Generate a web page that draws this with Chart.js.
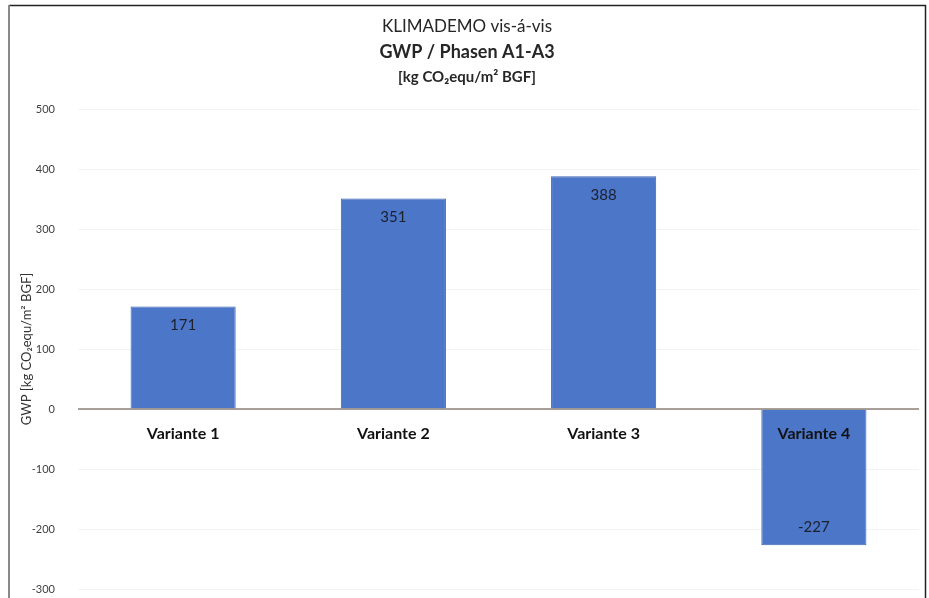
<!DOCTYPE html>
<html>
<head>
<meta charset="utf-8">
<script src="https://cdn.jsdelivr.net/npm/chart.js@4.4.1/dist/chart.umd.min.js"></script>
<style>
  html, body { margin: 0; padding: 0; background: #fff; overflow: hidden; }
  canvas { display: block; }
</style>
</head>
<body>
<canvas id="gwpChart" width="929" height="598"></canvas>
<script>
// chart data
const categories = ['Variante 1', 'Variante 2', 'Variante 3', 'Variante 4'];
const gwpValues = [171, 351, 388, -227];
const titleLines = ['KLIMADEMO vis-á-vis', 'GWP / Phasen A1-A3', '[kg CO₂equ/m² BGF]'];
const yAxisTitle = 'GWP [kg CO₂equ/m² BGF]';
const yMin = -300;
const yMax = 500;
const yStep = 100;

const fontFamily = 'Lato, "Open Sans", sans-serif';

// title lines drawn at the top (different fonts per line)
const titlePlugin = {
    id: 'threeLineTitle',
    afterDraw(chart) {
        const ctx = chart.ctx;
        ctx.save();
        ctx.fillStyle = '#262626';
        ctx.textAlign = 'center';
        ctx.textBaseline = 'middle';
        ctx.font = '17px ' + fontFamily;
        ctx.fillText(titleLines[0], 467, 27);
        ctx.font = 'bold 18px ' + fontFamily;
        ctx.fillText(titleLines[1], 467, 52);
        ctx.font = 'bold 15px ' + fontFamily;
        ctx.fillText(titleLines[2], 467, 77);
        ctx.restore();
    }
};

// value labels inside the bar end + category names on the zero line
const valueLabels = {
    id: 'valueLabels',
    afterDatasetsDraw(chart) {
        const ctx = chart.ctx;
        const meta = chart.getDatasetMeta(0);
        const xScale = chart.scales.x;
        const yScale = chart.scales.y;
        const zeroY = yScale.getPixelForValue(0);
        ctx.save();
        ctx.textAlign = 'center';
        ctx.textBaseline = 'middle';

        // zero line over the bars
        ctx.strokeStyle = '#8c8078';
        ctx.lineWidth = 1.5;
        ctx.beginPath();
        ctx.moveTo(chart.chartArea.left, zeroY);
        ctx.lineTo(chart.chartArea.right, zeroY);
        ctx.stroke();

        ctx.fillStyle = '#1b1f2e';
        ctx.font = '15px ' + fontFamily;
        meta.data.forEach((bar, i) => {
            const v = gwpValues[i];
            const y = v >= 0 ? bar.y + 19 : bar.y - 18;
            ctx.fillText(String(v), bar.x, y);
        });

        ctx.fillStyle = '#111';
        ctx.font = 'bold 16px ' + fontFamily;
        categories.forEach((c, i) => {
            ctx.fillText(c, xScale.getPixelForValue(i), zeroY + 25);
        });
        ctx.restore();
    }
};

// picture frame
const framePlugin = {
    id: 'frame',
    afterDraw(chart) {
        const ctx = chart.ctx;
        ctx.save();
        ctx.lineWidth = 1.5;
        ctx.strokeStyle = '#222';
        ctx.beginPath();
        ctx.moveTo(9, 5.5);
        ctx.lineTo(925.5, 5.5);
        ctx.lineTo(925.5, 598);
        ctx.stroke();
        ctx.lineWidth = 2;
        ctx.strokeStyle = '#8a8a8a';
        ctx.beginPath();
        ctx.moveTo(9, 5);
        ctx.lineTo(9, 598);
        ctx.stroke();
        ctx.restore();
    }
};

let chartElement = document.getElementById('gwpChart').getContext('2d');

let barChart = new Chart(chartElement,
    {
        type: 'bar',
        data:
            {
                labels: categories,
                datasets:
                    [
                        {
                            label: 'GWP',
                            data: gwpValues,
                            backgroundColor: '#4c76c8',
                            borderColor: '#3e66b6',
                            borderWidth: 1,
                            categoryPercentage: 1,
                            barPercentage: 0.5
                        }
                    ]
            },
        options:
            {
                responsive: false,
                animation: false,
                layout: { padding: { top: 109, left: 8, right: 10, bottom: 9 } },
                plugins:
                    {
                        legend: { display: false },
                        tooltip: { enabled: false }
                    },
                scales:
                    {
                        x:
                            {
                                display: false
                            },
                        y:
                            {
                                min: yMin,
                                max: yMax,
                                afterFit: s => { s.width = 70; },
                                grid: { color: '#f3f3f3', drawTicks: true, tickLength: 23, tickColor: 'rgba(0,0,0,0)' },
                                border: { display: false },
                                ticks:
                                    {
                                        stepSize: yStep,
                                        color: '#404040',
                                        padding: 0,
                                        font: { family: fontFamily, size: 11 }
                                    },
                                title:
                                    {
                                        display: true,
                                        text: yAxisTitle,
                                        color: '#333',
                                        padding: { top: 11, bottom: 0 },
                                        font: { family: fontFamily, size: 13 }
                                    }
                            }
                    }
            },
        plugins: [titlePlugin, valueLabels, framePlugin]
    });
</script>
</body>
</html>
